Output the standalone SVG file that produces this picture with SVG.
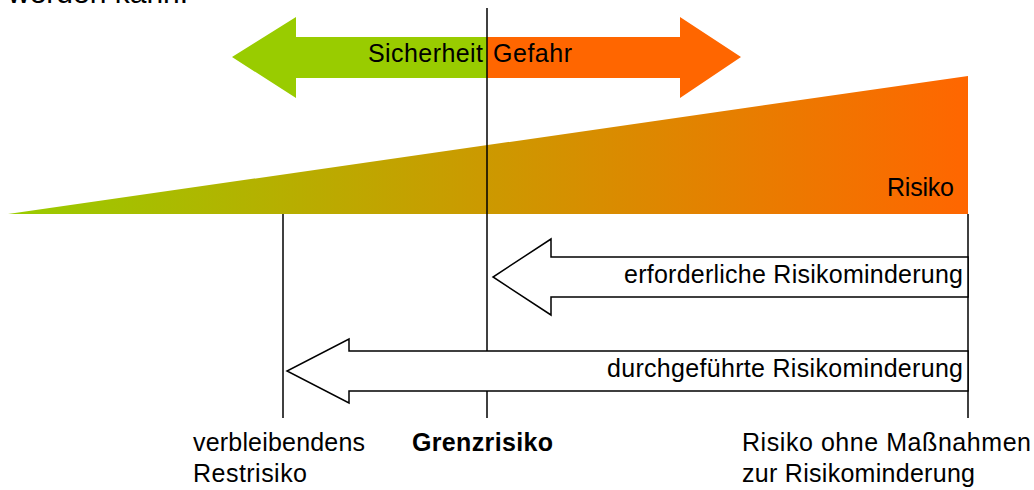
<svg xmlns="http://www.w3.org/2000/svg" width="1034" height="490" viewBox="0 0 1034 490">
<style>
text{font-family:"Liberation Sans",Arial,sans-serif;font-size:25px;fill:#000}
.b{font-weight:bold}
.ln{stroke:#000;stroke-width:1.5;fill:none}
.out{stroke:#000;stroke-width:1.5;fill:#fff;stroke-linejoin:miter}
</style>
<defs>
<linearGradient id="g" x1="8" y1="0" x2="968" y2="0" gradientUnits="userSpaceOnUse">
<stop offset="0" stop-color="#99CC00"/>
<stop offset="1" stop-color="#FF6600"/>
</linearGradient>
</defs>
<text x="8" y="3" style="font-size:30px">werden kann.</text>
<g id="risiko">
<polygon points="8,214 968,76 968,214" fill="url(#g)"/>
<text x="887" y="196" textLength="67">Risiko</text>
</g>
<g id="sicherheit-gefahr">
<polygon points="487,37 296,37 296,17 232,57 296,98 296,78 487,78" fill="#99CC00"/>
<polygon points="487,37 680,37 680,17 741,57 680,98 680,78 487,78" fill="#FF6600"/>
<text x="368" y="62" textLength="115">Sicherheit</text>
<text x="493" y="62" textLength="79">Gefahr</text>
</g>
<g id="connectors">
<line class="ln" x1="487" y1="8" x2="487" y2="418"/>
<line class="ln" x1="283" y1="214" x2="283" y2="418"/>
<line class="ln" x1="968" y1="214" x2="968" y2="418"/>
</g>
<g id="erforderliche">
<polygon class="out" points="968,257 551,257 551,239 493,277 551,315 551,297 968,297"/>
<text x="624" y="283" textLength="339">erforderliche Risikominderung</text>
</g>
<g id="durchgefuehrte">
<polygon class="out" points="968,351 349,351 349,339 287,371 349,403 349,391 968,391"/>
<text x="607" y="377" textLength="356">durchgeführte Risikominderung</text>
</g>
<g id="restrisiko">
<text x="193" y="451" textLength="172">verbleibendens</text>
<text x="193" y="482" textLength="114">Restrisiko</text>
</g>
<g id="grenzrisiko">
<text class="b" x="412" y="451" textLength="141">Grenzrisiko</text>
</g>
<g id="ohne">
<text x="742" y="451" textLength="289">Risiko ohne Maßnahmen</text>
<text x="742" y="482" textLength="233">zur Risikominderung</text>
</g>
</svg>
